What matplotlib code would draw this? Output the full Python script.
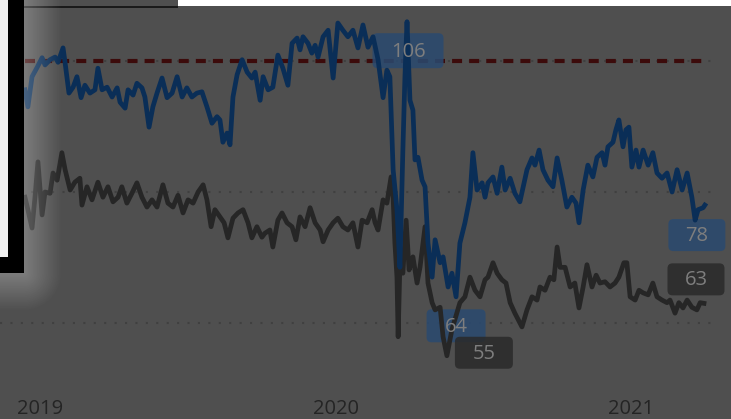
import matplotlib
matplotlib.use("Agg")
import matplotlib.pyplot as plt
import numpy as np
from matplotlib.patches import FancyBboxPatch, Rectangle
from matplotlib.transforms import IdentityTransform

plt.rcParams['font.family'] = ['Open Sans', 'DejaVu Sans']

# data (x in decimal years)
years = [2019, 2020, 2021]
year_labels = ["2019", "2020", "2021"]
target = 100
grid_levels = [60, 80, 100]

blue_t = [2018.949, 2018.959, 2018.973, 2018.990, 2019.007, 2019.017, 2019.034, 2019.051, 2019.061, 2019.078,
          2019.085, 2019.098, 2019.112, 2019.125, 2019.139, 2019.152, 2019.169, 2019.186, 2019.196, 2019.210,
          2019.227, 2019.244, 2019.261, 2019.271, 2019.288, 2019.298, 2019.315, 2019.328, 2019.345, 2019.355,
          2019.369, 2019.382, 2019.396, 2019.413, 2019.430, 2019.447, 2019.464, 2019.481, 2019.497, 2019.514,
          2019.531, 2019.548, 2019.565, 2019.582, 2019.599, 2019.609, 2019.619, 2019.633, 2019.643, 2019.653,
          2019.667, 2019.684, 2019.701, 2019.717, 2019.728, 2019.745, 2019.755, 2019.772, 2019.788, 2019.805,
          2019.822, 2019.839, 2019.853, 2019.870, 2019.880, 2019.890, 2019.907, 2019.920, 2019.931, 2019.941,
          2019.958, 2019.975, 2019.992, 2020.008, 2020.025, 2020.042, 2020.059, 2020.076, 2020.093, 2020.110,
          2020.127, 2020.144, 2020.161, 2020.174, 2020.184, 2020.195, 2020.208, 2020.218, 2020.228, 2020.235,
          2020.242, 2020.252, 2020.262, 2020.269, 2020.279, 2020.293, 2020.303, 2020.313, 2020.327, 2020.337,
          2020.354, 2020.364, 2020.381, 2020.394, 2020.408, 2020.421, 2020.438, 2020.455, 2020.465, 2020.479,
          2020.496, 2020.506, 2020.516, 2020.533, 2020.547, 2020.563, 2020.574, 2020.591, 2020.607, 2020.624,
          2020.648, 2020.665, 2020.675, 2020.689, 2020.702, 2020.719, 2020.736, 2020.750, 2020.766, 2020.783,
          2020.800, 2020.814, 2020.824, 2020.838, 2020.854, 2020.871, 2020.885, 2020.902, 2020.912, 2020.922,
          2020.939, 2020.949, 2020.959, 2020.973, 2020.983, 2020.993, 2021.003, 2021.017, 2021.027, 2021.041,
          2021.058, 2021.074, 2021.088, 2021.105, 2021.122, 2021.139, 2021.156, 2021.173, 2021.190, 2021.206,
          2021.217, 2021.227, 2021.244, 2021.250]
blue_v = [95.6, 93.0, 97.6, 99.0, 100.5, 99.4, 100.2, 100.6, 99.8, 102.0,
          99.7, 95.1, 96.0, 97.6, 94.4, 96.3, 95.1, 95.6, 98.9, 95.6,
          96.0, 94.5, 95.9, 93.7, 92.8, 95.6, 94.8, 96.6, 95.9, 94.5,
          89.9, 93.0, 95.1, 97.4, 94.4, 95.1, 97.6, 94.5, 95.9, 94.5,
          95.1, 95.3, 93.0, 90.5, 91.5, 91.0, 87.6, 89.0, 87.2, 94.5,
          97.9, 100.2, 98.3, 97.4, 98.3, 94.0, 97.6, 95.6, 96.0, 100.9,
          98.9, 96.3, 102.7, 103.5, 101.7, 103.7, 102.7, 101.2, 102.4, 100.6,
          103.7, 104.7, 97.4, 105.8, 104.7, 103.7, 104.7, 102.0, 105.5, 102.1,
          103.7, 100.2, 94.4, 98.6, 97.6, 83.4, 77.3, 68.5, 86.4, 97.6,
          106.0, 94.0, 92.5, 84.9, 85.3, 81.8, 80.8, 72.2, 67.0, 72.7,
          69.2, 70.1, 65.5, 67.6, 64.0, 72.2, 75.3, 79.2, 86.0, 80.3,
          81.4, 79.2, 81.4, 82.3, 79.8, 83.8, 80.3, 82.1, 79.8, 78.5,
          83.4, 85.2, 84.1, 86.4, 83.4, 81.8, 80.8, 85.2, 81.8, 77.7,
          79.2, 78.3, 75.3, 80.3, 84.1, 82.3, 85.3, 86.0, 84.1, 86.9,
          87.6, 89.5, 91.0, 86.9, 89.5, 89.9, 83.8, 86.4, 83.8, 86.4,
          84.1, 86.0, 82.9, 82.1, 82.9, 80.0, 83.4, 80.3, 82.9, 79.2,
          75.7, 77.3, 77.6, 78.0]

dark_t = [2018.949, 2018.959, 2018.973, 2018.983, 2018.993, 2019.007, 2019.017, 2019.034, 2019.044, 2019.058,
          2019.074, 2019.085, 2019.102, 2019.118, 2019.135, 2019.142, 2019.159, 2019.176, 2019.196, 2019.213,
          2019.230, 2019.247, 2019.264, 2019.277, 2019.294, 2019.311, 2019.328, 2019.345, 2019.362, 2019.379,
          2019.396, 2019.416, 2019.433, 2019.450, 2019.467, 2019.484, 2019.501, 2019.518, 2019.535, 2019.552,
          2019.565, 2019.579, 2019.592, 2019.609, 2019.623, 2019.636, 2019.653, 2019.670, 2019.687, 2019.704,
          2019.717, 2019.734, 2019.751, 2019.761, 2019.778, 2019.788, 2019.805, 2019.819, 2019.836, 2019.853,
          2019.866, 2019.880, 2019.897, 2019.914, 2019.931, 2019.948, 2019.958, 2019.975, 2019.992, 2020.008,
          2020.025, 2020.042, 2020.059, 2020.076, 2020.090, 2020.107, 2020.124, 2020.134, 2020.144, 2020.161,
          2020.174, 2020.188, 2020.195, 2020.201, 2020.208, 2020.212, 2020.218, 2020.228, 2020.239, 2020.249,
          2020.262, 2020.276, 2020.286, 2020.303, 2020.313, 2020.327, 2020.337, 2020.354, 2020.364, 2020.377,
          2020.394, 2020.421, 2020.438, 2020.455, 2020.472, 2020.489, 2020.506, 2020.516, 2020.533, 2020.547,
          2020.563, 2020.577, 2020.591, 2020.607, 2020.631, 2020.648, 2020.665, 2020.682, 2020.692, 2020.709,
          2020.726, 2020.739, 2020.750, 2020.760, 2020.777, 2020.794, 2020.810, 2020.824, 2020.838, 2020.851,
          2020.868, 2020.882, 2020.895, 2020.912, 2020.929, 2020.946, 2020.959, 2020.976, 2020.986, 2020.997,
          2021.014, 2021.027, 2021.041, 2021.058, 2021.074, 2021.088, 2021.105, 2021.122, 2021.132, 2021.149,
          2021.162, 2021.176, 2021.190, 2021.206, 2021.223, 2021.234, 2021.247]
dark_v = [79.2, 77.3, 74.5, 79.2, 84.6, 76.5, 80.0, 79.8, 82.9, 81.8,
          86.0, 83.4, 80.3, 81.5, 82.1, 78.0, 80.8, 78.8, 81.5, 79.2,
          80.8, 78.5, 79.2, 80.8, 78.3, 79.8, 81.4, 79.2, 77.7, 78.8,
          77.7, 81.1, 78.3, 77.7, 79.5, 76.8, 78.8, 78.3, 80.0, 81.1,
          78.8, 74.7, 77.3, 76.2, 75.3, 73.0, 76.0, 76.8, 77.3, 75.3,
          73.0, 74.7, 73.1, 73.7, 74.2, 71.6, 75.7, 76.8, 75.3, 74.7,
          72.7, 76.2, 74.7, 77.6, 75.3, 74.2, 72.4, 74.2, 75.3, 76.0,
          74.7, 74.2, 75.3, 71.6, 75.7, 75.3, 77.3, 75.3, 74.2, 78.8,
          78.3, 82.3, 79.2, 72.2, 67.0, 57.9, 69.2, 67.6, 75.7, 68.1,
          70.1, 66.1, 68.5, 74.7, 66.1, 63.1, 62.0, 62.4, 57.9, 55.0,
          59.0, 63.1, 64.0, 67.0, 65.0, 64.0, 66.6, 67.0, 69.2, 67.6,
          66.6, 66.1, 63.1, 61.5, 59.4, 62.0, 64.0, 63.5, 65.5, 65.0,
          67.0, 66.6, 71.6, 68.5, 68.5, 65.5, 66.1, 62.3, 65.5, 68.9,
          65.5, 67.3, 66.1, 66.3, 65.5, 66.1, 67.0, 69.2, 69.2, 64.0,
          63.5, 65.0, 64.6, 64.3, 66.1, 64.0, 63.5, 63.1, 63.5, 61.5,
          63.1, 62.3, 63.5, 62.4, 62.0, 63.1, 63.0]

W, H = 731, 419
bg = '#4f4f4f'
blue = '#0a2e57'
dark = '#262626'

fig = plt.figure(figsize=(W / 100, H / 100), dpi=100, facecolor=bg)
# plot area: x 0..718 px, y 0..380 px from top
ax = fig.add_axes([0, (H - 380) / H, 718 / W, 380 / H])
ax.set_facecolor(bg)
ax.set_xlim(2019 - 40 / 295.5, 2019 + 678 / 295.5)
ax.set_ylim(60 - 57 / 6.55, 60 + 323 / 6.55)
for s in ax.spines.values():
    s.set_visible(False)

ax.set_yticks(grid_levels)
ax.set_yticklabels([])
ax.tick_params(axis='y', length=0)
ax.grid(axis='y', color='#404040', linewidth=1.5, linestyle=(0, (1, 4)))
ax.set_xticks(years)
ax.set_xticklabels(year_labels, fontsize=14.5, color='#242424')
ax.tick_params(axis='x', length=0, pad=14)

ax.plot([blue_t[0], blue_t[-1]], [target, target], color='#3c0b0b', lw=3,
        dashes=(2.4, 1.7), zorder=2)
ax.plot(dark_t, dark_v, color=dark, lw=3.4, solid_joinstyle='round', zorder=4)
ax.plot(blue_t, blue_v, color=blue, lw=3.4, solid_joinstyle='round', zorder=5)

# value badges: (t, v, offset px right, offset px down, w, h, colour)
bi_max = int(np.argmax(blue_v))
bi_min = int(np.argmin(blue_v))
di_min = int(np.argmin(dark_v))
badges = [
    (blue_t[bi_max], blue_v[bi_max], 1, 29, 71, 35, '#2a4a70'),
    (blue_t[bi_min], blue_v[bi_min], 0, 29, 59, 33, '#2a4a70'),
    (dark_t[di_min], dark_v[di_min], 37, -3, 58, 32, '#2a2a2a'),
    (blue_t[-1], blue_v[-1], -8, 30, 57, 32, '#2a4a70'),
    (dark_t[-1], dark_v[-1], -8, -24, 57, 32, '#2a2a2a'),
]
fig.canvas.draw()
for t, v, dx, dy, bw, bh, fc in badges:
    px, py = ax.transData.transform((t, v))
    cx, cy = px + dx, py - dy
    box = FancyBboxPatch((cx - bw / 2, cy - bh / 2), bw, bh,
                         boxstyle="round,pad=0,rounding_size=5",
                         fc=fc, ec='none', alpha=0.85,
                         transform=IdentityTransform(), zorder=3, clip_on=False)
    ax.add_artist(box)
    ax.text(cx, cy - 1, f"{v:.0f}", transform=IdentityTransform(),
            ha='center', va='center', fontsize=14.5, color='#7e7e7e',
            zorder=10, clip_on=False)

# the popup edge at the top left and its glow
ov = fig.add_axes([0, 0, 1, 1], zorder=5)
ov.set_xlim(0, W)
ov.set_ylim(H, 0)
ov.axis('off')
ov.add_patch(Rectangle((24, 6), 154, 2.2, color='#1a1a1a', lw=0))
ov.add_patch(Rectangle((178, 0), W - 178, 6, color='white', lw=0))

yy, xx = np.mgrid[0:H, 0:W] + 0.5
d = np.hypot(np.clip(xx - 24, 0, None), np.clip(yy - 273, 0, None))
glow = np.zeros((H, W, 4))
glow[..., :3] = 1.0
glow[..., 3] = 0.26 * np.clip(1 - d / 38, 0, 1)
glow[(xx < 24) & (yy < 273)] = 0
ov.imshow(glow, extent=(0, W, H, 0), interpolation='bilinear', zorder=1)

ov.add_patch(Rectangle((0, 0), 8, 257, color='#f0f0f0', lw=0, zorder=2))
ov.add_patch(Rectangle((8, 0), 16, 273, color='black', lw=0, zorder=2))
ov.add_patch(Rectangle((0, 257), 24, 16, color='black', lw=0, zorder=2))

fig.savefig('out.png', dpi=100, facecolor=bg)
